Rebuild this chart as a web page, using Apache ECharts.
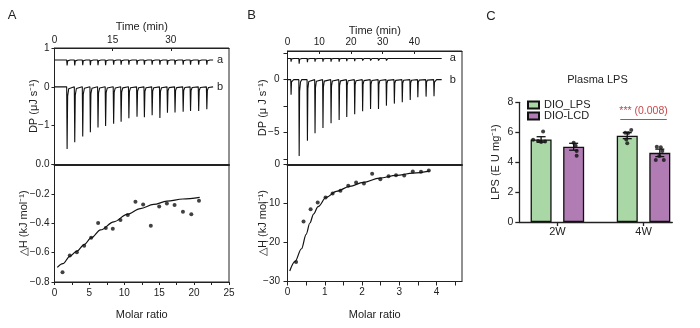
<!DOCTYPE html>
<html><head><meta charset="utf-8">
<script src="https://cdn.jsdelivr.net/npm/echarts@6/dist/echarts.min.js"></script>
<style>html,body{margin:0;padding:0;background:#fff}#c{width:700px;height:328px}</style>
</head><body><div id="c"></div>
<script>
// ---------------- DATA ----------------
// Panel A raw ITC trace (time in min, peak depth in µJ/s)
const injTimesA = [3.17, 5.14, 7.2, 9.17, 11.14, 13.1, 15.17, 17.1, 19.1, 21.2, 23.1, 25.1, 27.1, 29.05, 31.0, 33.1, 35.0, 37.1, 39.2];
const peakA_b = [1.60, 1.43, 1.28, 1.17, 1.05, 1.01, 0.95, 0.90, 0.81, 0.77, 0.78, 0.73, 0.80, 0.67, 0.66, 0.64, 0.62, 0.62, 0.58];
const peakA_a = [0.14, 0.14, 0.13, 0.13, 0.13, 0.13, 0.12, 0.12, 0.12, 0.12, 0.12, 0.12, 0.12, 0.12, 0.12, 0.12, 0.12, 0.12, 0.12];
const baseA_a = 0.69, baseA_b = 0, endA = 40.9;
// Panel A integrated heats
const ratioA = [1.15, 2.19, 3.2, 4.25, 5.25, 6.25, 7.35, 8.35, 9.45, 10.5, 11.6, 12.7, 13.8, 15.0, 16.1, 17.2, 18.4, 19.6, 20.7];
const heatA = [-0.734, -0.619, -0.598, -0.553, -0.499, -0.399, -0.433, -0.437, -0.378, -0.344, -0.254, -0.272, -0.417, -0.286, -0.265, -0.276, -0.322, -0.338, -0.247];
const fitAx = [0.4, 1.2, 2.2, 3.2, 4.25, 5.25, 6.6, 8.5, 10.4, 12.3, 14.2, 16.1, 18.4, 20.8];
const fitAy = [-0.70, -0.675, -0.625, -0.59, -0.545, -0.50, -0.445, -0.39, -0.34, -0.30, -0.272, -0.25, -0.235, -0.224];
// Panel B raw ITC trace
const injTimesB = [1.05, 3.6, 6.2, 8.6, 11.1, 13.65, 16.2, 18.6, 21.1, 23.6, 26.1, 28.6, 31.1, 33.6, 36.1, 38.6, 41.0, 43.6, 46.1];
const peakB_b = [1.42, 7.2, 5.75, 5.06, 4.56, 4.12, 3.8, 3.52, 3.27, 2.99, 2.77, 2.77, 2.45, 2.26, 2.14, 1.92, 1.67, 1.6, 1.57];
const peakB_a = [0.3, 0.5, 0.35, 0.3, 0.3, 0.3, 0.3, 0.25, 0.25, 0.2, 0.2, 0.2, 0.2, 0.15, 0.15, 0.15, 0.15, 0.15, 0.15];
const baseB_a = 2.0, baseB_b = 0, endB = 48.6;
// Panel B integrated heats
const ratioB = [0.23, 0.43, 0.62, 0.81, 1.02, 1.21, 1.42, 1.63, 1.84, 2.05, 2.27, 2.49, 2.71, 2.91, 3.13, 3.36, 3.58, 3.79];
const heatB = [-25.0, -14.6, -11.45, -9.74, -8.46, -7.44, -6.75, -5.47, -4.62, -4.87, -2.39, -3.76, -2.99, -2.74, -2.82, -1.79, -1.88, -1.54];
const fitBx = [0.06, 0.2, 0.375, 0.5, 0.6, 0.7, 0.82, 1.04, 1.31, 1.67, 2.03, 2.47, 2.92, 3.37, 3.81];
const fitBy = [-27.3, -24.9, -21.6, -17.9, -15.0, -12.7, -10.8, -8.4, -6.9, -5.6, -4.6, -3.5, -2.8, -2.2, -1.7];
// Panel C
const catsC = ['2W', '4W'];
const groupsC = ['DIO_LPS', 'DIO-LCD'];
const meanLPS = [5.52, 5.77];
const meanLCD = [5.03, 4.62];
const semLPS = [0.18, 0.20];
const semLCD = [0.23, 0.25];
const dotsLPS = [[6.05, 5.50, 5.42, 5.38, 5.35], [6.15, 5.97, 5.95, 5.52, 5.26]];
const dotsLCD = [[5.30, 5.10, 4.75, 4.42], [5.03, 4.99, 4.74, 4.41, 4.14, 4.14]];
const sigCat = 2, sigY = 6.86, sigText = '*** (0.008)';

// ---------------- STYLE ----------------
const FONT = '"Liberation Sans", Arial, Helvetica, sans-serif';
const INK = '#222';
const RED = '#c8474a';
const GREEN = '#aad7a6';
const PURPLE = '#b07cb3';
const BW = 21, GAP = 0.55;
const OFF = (BW + BW * GAP) / 2;
const jitLPS = [[2, -8, -3, 4, 0], [4, -2, 1, -1, 0]];
const jitLCD = [[0, 2, 3, 3], [-3, 1, 2.5, -0.5, -4, 4]];

function merge(a, b) {
  const o = Object.assign({}, a);
  for (const k in b) {
    if (b[k] && typeof b[k] === 'object' && !Array.isArray(b[k]) && a[k] && typeof a[k] === 'object' && !Array.isArray(a[k])) o[k] = merge(a[k], b[k]);
    else o[k] = b[k];
  }
  return o;
}
const fmtInt = v => String(v).replace('-', '\u2212');
const fmt1 = v => Number(v).toFixed(1).replace('-', '\u2212');

function trace(base, times, depths, tEnd) {
  const pts = [[0, base]];
  times.forEach((t, i) => {
    const d = depths[i];
    pts.push([t - 0.03, base], [t + 0.08, base - d], [t + 0.22, base - d * 0.15], [t + 0.5, base - d * 0.03], [t + 0.9, base]);
  });
  pts.push([tEnd, base]);
  return pts;
}
const pairs = (xs, ys) => xs.map((x, i) => [x, ys[i]]);

const axBase = {
  type: 'value', nameLocation: 'middle', nameMoveOverlap: false,
  nameTextStyle: { fontFamily: FONT, fontSize: 11, color: INK },
  axisLine: { show: true, onZero: false, lineStyle: { color: INK, width: 1 } },
  axisTick: { show: true, length: 3, lineStyle: { color: INK, width: 1 } },
  axisLabel: { fontFamily: FONT, fontSize: 10, color: INK, margin: 5, formatter: fmtInt },
  splitLine: { show: false }, minorTick: { show: false }
};
const gridBase = { show: true, borderColor: INK, borderWidth: 1, containLabel: false, outerBoundsMode: 'none' };

const xAxis = [
  merge(axBase, { gridIndex: 0, position: 'top', min: 0, max: 45, name: 'Time (min)', nameGap: 15.5,
    axisTick: { inside: true, customValues: [0, 15, 30] }, axisLabel: { margin: 3, customValues: [0, 15, 30] } }),
  merge(axBase, { gridIndex: 1, position: 'bottom', min: 0, max: 25, name: 'Molar ratio', nameGap: 27.5,
    axisTick: { customValues: [0, 2.5, 5, 7.5, 10, 12.5, 15, 17.5, 20, 22.5, 25] }, axisLabel: { margin: 6, customValues: [0, 5, 10, 15, 20, 25] } }),
  merge(axBase, { gridIndex: 2, position: 'top', min: 0, max: 55, name: 'Time (min)', nameGap: 14.5,
    axisTick: { inside: true, customValues: [0, 10, 20, 30, 40] }, axisLabel: { margin: 3.5, customValues: [0, 10, 20, 30, 40] } }),
  merge(axBase, { gridIndex: 3, position: 'bottom', min: 0, max: 4.68, name: 'Molar ratio', nameGap: 27.5,
    axisTick: { length: 4, customValues: [0, 0.5, 1, 1.5, 2, 2.5, 3, 3.5, 4, 4.5] }, axisLabel: { margin: 6, customValues: [0, 1, 2, 3, 4] } }),
  merge(axBase, { gridIndex: 4, position: 'bottom', min: 0.558, max: 2.334,
    axisLine: { lineStyle: { width: 1.3 } },
    axisTick: { length: 4, customValues: [1, 2], lineStyle: { width: 1.3 } },
    axisLabel: { fontSize: 11, margin: 4, customValues: [1, 2], formatter: v => catsC[Math.round(v) - 1] } }),
  merge(axBase, { gridIndex: 1, position: 'top', min: 0, max: 25, axisLine: { lineStyle: { width: 2 } }, axisTick: { show: false }, axisLabel: { show: false } }),
  merge(axBase, { gridIndex: 3, position: 'top', min: 0, max: 4.68, axisLine: { lineStyle: { width: 2 } }, axisTick: { show: false }, axisLabel: { show: false } })
];
const yAxis = [
  merge(axBase, { gridIndex: 0, min: -2, max: 1, name: 'DP (\u03bcJ s\u207b\u00b9)', nameGap: 15,
    axisTick: { customValues: [-2, -1, 0, 1] }, axisLabel: { customValues: [-1, 0, 1] } }),
  merge(axBase, { gridIndex: 1, min: -0.8, max: 0, interval: 0.2, name: '\u25b3H (kJ mol\u207b\u00b9)', nameGap: 24.7,
    axisLabel: { formatter: fmt1 } }),
  merge(axBase, { gridIndex: 2, min: -8, max: 2.7, name: 'DP (\u03bc J s\u207b\u00b9)', nameGap: 19,
    axisTick: { length: 4, customValues: [-7.5, -5, -2.5, 0, 2.5] }, axisLabel: { margin: 8, customValues: [-5, 0] } }),
  merge(axBase, { gridIndex: 3, min: -30, max: 0, interval: 10, name: '\u25b3H (kJ mol\u207b\u00b9)', nameGap: 19,
    axisTick: { length: 4 }, axisLabel: { margin: 7.5 } }),
  merge(axBase, { gridIndex: 4, min: 0, max: 8, interval: 2, name: 'LPS (E U mg\u207b\u00b9)', nameGap: 17.8,
    axisLine: { lineStyle: { width: 1.3 } }, axisTick: { length: 4, lineStyle: { width: 1.3 } }, axisLabel: { margin: 6, fontSize: 10.5 } })
];

const lineStyleTrace = { color: '#111', width: 1.1 };
function traceSeries(xi, yi, base, times, depths, tEnd, lab, dist) {
  return { type: 'line', xAxisIndex: xi, yAxisIndex: yi, data: trace(base, times, depths, tEnd), symbol: 'none',
    lineStyle: lineStyleTrace, silent: true,
    endLabel: { show: true, formatter: lab, distance: dist, fontFamily: FONT, fontSize: 11, color: INK } };
}

function errSeries(means, sems, off) {
  return { type: 'custom', xAxisIndex: 4, yAxisIndex: 4, z: 5, silent: true,
    data: means.map((m, i) => [i + 1, m, sems[i]]),
    encode: { x: 0, y: 1 },
    renderItem: (params, api) => {
      const x = api.value(0), m = api.value(1), s = api.value(2);
      const t = api.coord([x, m + s]), b = api.coord([x, m - s]);
      const cx = t[0] + off, cw = 4.5;
      const st = { stroke: '#111', lineWidth: 1.3 };
      return { type: 'group', children: [
        { type: 'line', shape: { x1: cx, y1: t[1], x2: cx, y2: b[1] }, style: st },
        { type: 'line', shape: { x1: cx - cw, y1: t[1], x2: cx + cw, y2: t[1] }, style: st },
        { type: 'line', shape: { x1: cx - cw, y1: b[1], x2: cx + cw, y2: b[1] }, style: st }
      ] };
    } };
}
function dotSeries(dots, jit, off, extra) {
  const data = [];
  dots.forEach((arr, i) => arr.forEach((v, k) => data.push({ value: [i + 1, v], symbolOffset: [off + jit[i][k], 0] })));
  return Object.assign({ type: 'scatter', xAxisIndex: 4, yAxisIndex: 4, z: 6, silent: true, data, symbolSize: 4, itemStyle: { color: '#111' } }, extra || {});
}

const sigMark = { markLine: { silent: true, symbol: 'none', animation: false,
  lineStyle: { color: RED, width: 1.2, type: 'solid' },
  label: { show: true, position: 'insideMiddleTop', distance: 3, formatter: sigText, color: RED, fontFamily: FONT, fontSize: 10.5 },
  data: [[{ coord: [sigCat - 0.27, sigY] }, { coord: [sigCat + 0.27, sigY] }]] } };

const series = [
  traceSeries(0, 0, baseA_a, injTimesA, peakA_a, endA, 'a', 4),
  traceSeries(0, 0, baseA_b, injTimesA, peakA_b, endA, 'b', 4),
  { type: 'scatter', xAxisIndex: 1, yAxisIndex: 1, data: pairs(ratioA, heatA), symbolSize: 4, itemStyle: { color: '#111' }, silent: true },
  { type: 'line', xAxisIndex: 1, yAxisIndex: 1, data: pairs(fitAx, fitAy), smooth: 0.35, smoothMonotone: 'x', symbol: 'none', lineStyle: { color: '#111', width: 1.2 }, silent: true },
  traceSeries(2, 2, baseB_a, injTimesB, peakB_a, endB, 'a', 8),
  traceSeries(2, 2, baseB_b, injTimesB, peakB_b, endB, 'b', 8),
  { type: 'scatter', xAxisIndex: 3, yAxisIndex: 3, data: pairs(ratioB, heatB), symbolSize: 4, itemStyle: { color: '#111' }, silent: true },
  { type: 'line', xAxisIndex: 3, yAxisIndex: 3, data: pairs(fitBx, fitBy), smooth: 0.35, smoothMonotone: 'x', symbol: 'none', lineStyle: { color: '#111', width: 1.2 }, silent: true },
  { type: 'bar', name: groupsC[0], xAxisIndex: 4, yAxisIndex: 4, barWidth: BW, barGap: (GAP * 100) + '%',
    data: meanLPS.map((m, i) => [i + 1, m]), itemStyle: { color: GREEN, borderColor: '#111', borderWidth: 1.3 }, silent: true },
  { type: 'bar', name: groupsC[1], xAxisIndex: 4, yAxisIndex: 4, barWidth: BW, barGap: (GAP * 100) + '%',
    data: meanLCD.map((m, i) => [i + 1, m]), itemStyle: { color: PURPLE, borderColor: '#111', borderWidth: 1.3 }, silent: true },
  errSeries(meanLPS, semLPS, -OFF),
  errSeries(meanLCD, semLCD, OFF),
  dotSeries(dotsLPS, jitLPS, -OFF, sigMark),
  dotSeries(dotsLCD, jitLCD, OFF)
];

const option = {
  animation: false,
  textStyle: { fontFamily: FONT },
  grid: [
    merge(gridBase, { left: 54.5, top: 48, width: 174.5, height: 116.5 }),
    merge(gridBase, { left: 54.5, top: 164.5, width: 174.5, height: 117.5 }),
    merge(gridBase, { left: 287.5, top: 51, width: 174.5, height: 113.5 }),
    merge(gridBase, { left: 287.5, top: 164.5, width: 174.5, height: 117 }),
    merge(gridBase, { show: false, left: 519.3, top: 102.3, width: 153, height: 119.7 })
  ],
  xAxis, yAxis,
  legend: { data: groupsC, orient: 'vertical', left: 527, top: 99.5, itemWidth: 11, itemHeight: 7, itemGap: 0,
    selectedMode: false, icon: 'rect', padding: 0,
    textStyle: { fontFamily: FONT, fontSize: 11, color: INK, lineHeight: 11 } },
  graphic: [
    { type: 'text', x: 12, y: 15.5, style: { text: 'A', align: 'center', verticalAlign: 'middle', font: '13px "Liberation Sans", Arial', fill: INK } },
    { type: 'text', x: 251.5, y: 15.5, style: { text: 'B', align: 'center', verticalAlign: 'middle', font: '13px "Liberation Sans", Arial', fill: INK } },
    { type: 'text', x: 491, y: 16, style: { text: 'C', align: 'center', verticalAlign: 'middle', font: '13px "Liberation Sans", Arial', fill: INK } },
    { type: 'text', x: 597.5, y: 80, style: { text: 'Plasma LPS', align: 'center', verticalAlign: 'middle', font: '11px "Liberation Sans", Arial', fill: INK } }
  ],
  series
};
const chart = echarts.init(document.getElementById('c'), null, { renderer: 'canvas' });
chart.setOption(option);
</script></body></html>
